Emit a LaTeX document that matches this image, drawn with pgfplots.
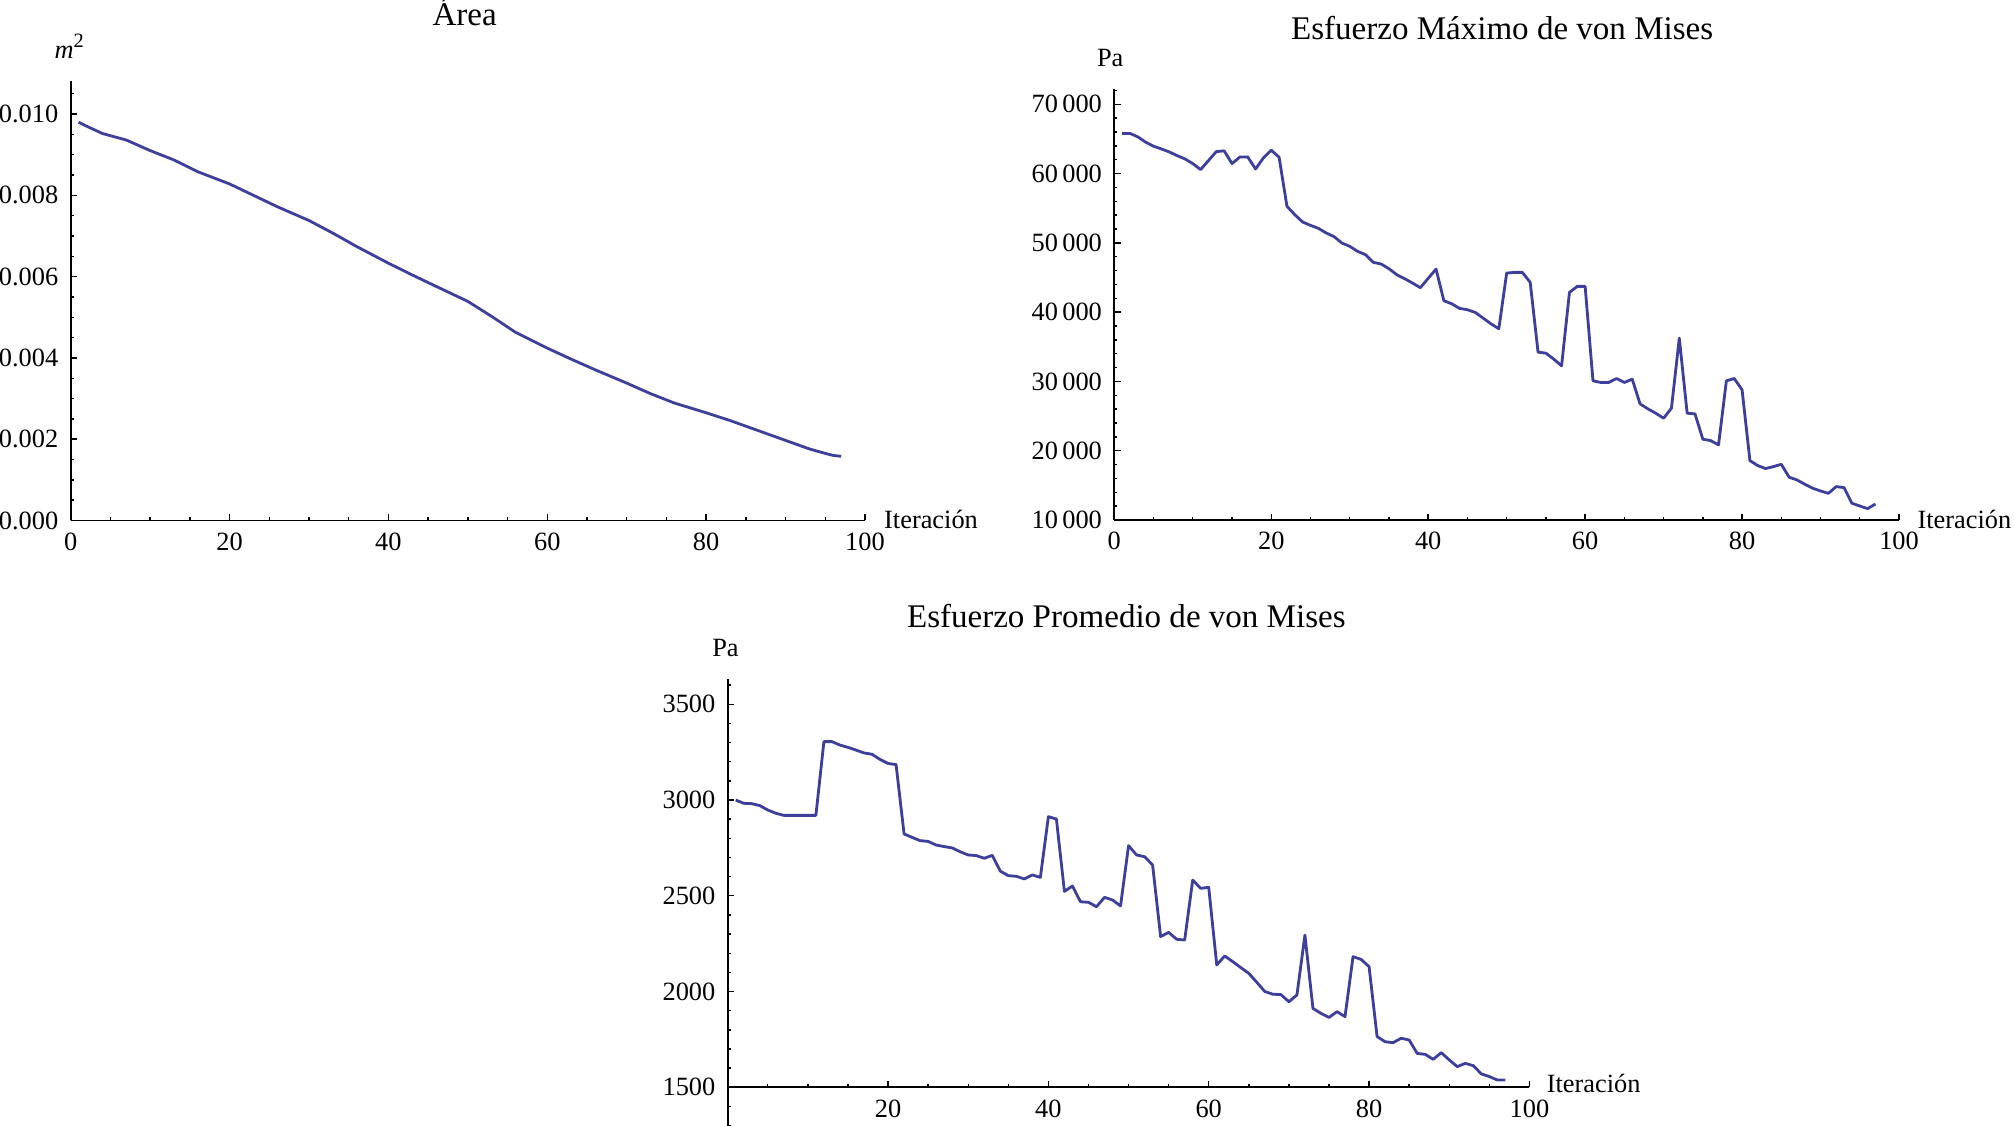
\documentclass[border=0pt]{standalone}
\usepackage{fontspec}
\setmainfont{Liberation Serif}
\usepackage{pgfplots}
\pgfplotsset{compat=1.18}
\definecolor{mline}{RGB}{62,62,155}
\pgfplotsset{
 mstyle/.style={
  scale only axis,
  axis lines=left,
  axis line style={-, line width=0.5pt},
  tick align=inside,
  major tick length=1.8pt,
  minor tick length=0.9pt,
  every tick/.style={black, line width=0.4pt},
  xmin=0, xmax=100,
  xtick={0,20,40,60,80,100},
  minor xtick={0,5,...,100},
  tick label style={font=\fontsize{7.5pt}{9pt}\selectfont},
  /pgf/number format/assume math mode=true,
  scaled ticks=false,
  clip=false,
 },
 mplot/.style={color=mline, line width=0.8pt, line join=round, no markers},
}
\newcommand{\lab}{\fontsize{7.5pt}{9pt}\selectfont}
\newcommand{\tit}{\fontsize{9.4pt}{11pt}\selectfont}
\begin{document}
\begin{tikzpicture}
\useasboundingbox (0,0) rectangle (20.15,11.26);
% ---------------- Area ----------------
\begin{axis}[mstyle, at={(0.707cm,6.055cm)}, anchor=south west,
  width=7.943cm, height=4.39cm, ymin=0, ymax=0.0108,
  ytick={0,0.002,0.004,0.006,0.008,0.010},
  minor ytick={0.0005,0.001,0.0015,0.0025,0.003,0.0035,0.0045,0.005,0.0055,0.0065,0.007,0.0075,0.0085,0.009,0.0095,0.0105},
  yticklabel style={/pgf/number format/.cd, fixed, fixed zerofill, precision=3}]
\addplot[mplot] coordinates {
(1,0.00980) (2,0.00970) (4,0.00952) (7,0.00936) (10,0.00910) (13,0.00887) (16,0.00858)
(20,0.00828) (23,0.00800) (26,0.00772) (30,0.00738) (33,0.00707) (36,0.00674)
(40,0.00633) (43,0.00604) (46,0.00576) (50,0.00539) (53,0.00502) (56,0.00463)
(60,0.00424) (63,0.00397) (66,0.00371) (70,0.00338) (73,0.00312) (76,0.00289)
(80,0.00265) (83,0.00246) (86,0.00225) (90,0.00197) (93,0.00176) (95,0.00165) (96,0.00160)
(97,0.00158)};
\end{axis}
% ---------------- Max ----------------
\begin{axis}[mstyle, at={(11.143cm,6.06cm)}, anchor=south west,
  width=7.847cm, height=4.309cm, ymin=10000, ymax=72200,
  ytick={10000,20000,30000,40000,50000,60000,70000},
  minor ytick={12000,14000,...,72000},
  yticklabel style={/pgf/number format/.cd, 1000 sep={\,}}]
\addplot[mplot] coordinates {
(1,65800) (2,65800) (3,65300) (4,64530) (5,63950) (6,63560) (7,63130) (8,62600)
(9,62120) (10,61440) (11,60580) (12,61880) (13,63180) (14,63280) (15,61440)
(16,62400) (17,62400) (18,60670) (19,62260) (20,63370) (21,62360) (22,55280)
(23,54070) (24,53010) (25,52530) (26,52100) (27,51430) (28,50900) (29,49980)
(30,49500) (31,48780) (32,48300) (33,47190) (34,46950) (35,46270) (36,45400)
(37,44830) (38,44200) (39,43530) (40,44880) (41,46220) (42,41650) (43,41210)
(44,40540) (45,40350) (46,39960) (47,39140) (48,38320) (49,37600) (50,45640)
(51,45740) (52,45740) (53,44300) (54,34230) (55,34080) (56,33220) (57,32250)
(58,42850) (59,43720) (60,43720) (61,30090) (62,29850) (63,29850) (64,30420)
(65,29850) (66,30330) (67,26760) (68,26040) (69,25410) (70,24690) (71,26140)
(72,36250) (73,25410) (74,25320) (75,21660) (76,21460) (77,20840) (78,30090)
(79,30420) (80,28790) (81,18570) (82,17850) (83,17420) (84,17710) (85,18040)
(86,16170) (87,15780) (88,15150) (89,14580) (90,14190) (91,13850) (92,14820)
(93,14670) (94,12410) (95,12020) (96,11640) (97,12310)};
\end{axis}
% ---------------- Average ----------------
\begin{axis}[mstyle, at={(7.277cm,0.004cm)}, anchor=south west,
  width=8.017cm, height=4.462cm, ymin=1300, ymax=3630,
  xtick={20,40,60,80,100},
  ytick={1500,2000,2500,3000,3500},
  minor ytick={1300,1400,...,3600},
  axis x line shift=-0.383cm,
  yticklabel style={/pgf/number format/.cd, 1000 sep={}}]
\addplot[mplot] coordinates {
(1,3000) (2,2983) (3,2981) (4,2971) (5,2948) (6,2931) (7,2920) (8,2920) (9,2920)
(10,2920) (11,2920) (12,3305) (13,3305) (14,3287) (15,3275) (16,3261) (17,3246)
(18,3239) (19,3212) (20,3191) (21,3185) (22,2823) (23,2805) (24,2788) (25,2784)
(26,2765) (27,2757) (28,2750) (29,2730) (30,2713) (31,2710) (32,2696) (33,2711)
(34,2629) (35,2605) (36,2602) (37,2588) (38,2609) (39,2596) (40,2913) (41,2901)
(42,2523) (43,2551) (44,2469) (45,2466) (46,2443) (47,2492) (48,2478) (49,2447)
(50,2762) (51,2713) (52,2704) (53,2661) (54,2287) (55,2309) (56,2273) (57,2269)
(58,2582) (59,2539) (60,2544) (61,2139) (62,2186) (63,2156) (64,2125) (65,2095)
(66,2048) (67,2000) (68,1986) (69,1984) (70,1947) (71,1982) (72,2295) (73,1912)
(74,1886) (75,1865) (76,1895) (77,1869) (78,2182) (79,2168) (80,2130) (81,1765)
(82,1738) (83,1733) (84,1756) (85,1747) (86,1677) (87,1672) (88,1646) (89,1681)
(90,1643) (91,1608) (92,1625) (93,1613) (94,1570) (95,1556) (96,1538) (97,1538)};
\end{axis}
% ---------------- Texts ----------------
\begin{scope}[yshift=11.26cm, x=0.01cm, y=-0.01cm]
\node[anchor=base, inner sep=0] at (465,26) {\tit Área};
\node[anchor=base west, inner sep=0] at (54,59) {\lab\textit{m}\raisebox{0.45em}{\fontsize{5.8pt}{7pt}\selectfont 2}};
\node[anchor=base west, inner sep=0] at (884,529) {\lab Iteración};
\node[anchor=base, inner sep=0] at (1503,39.5) {\tit Esfuerzo Máximo de von Mises};
\node[anchor=base west, inner sep=0] at (1097,67) {\lab Pa};
\node[anchor=base west, inner sep=0] at (1918,529) {\lab Iteración};
\node[anchor=base, inner sep=0] at (1127,628) {\tit Esfuerzo Promedio de von Mises};
\node[anchor=base west, inner sep=0] at (712,657) {\lab Pa};
\node[anchor=base west, inner sep=0] at (1547,1093) {\lab Iteración};
\end{scope}
\end{tikzpicture}
\end{document}
